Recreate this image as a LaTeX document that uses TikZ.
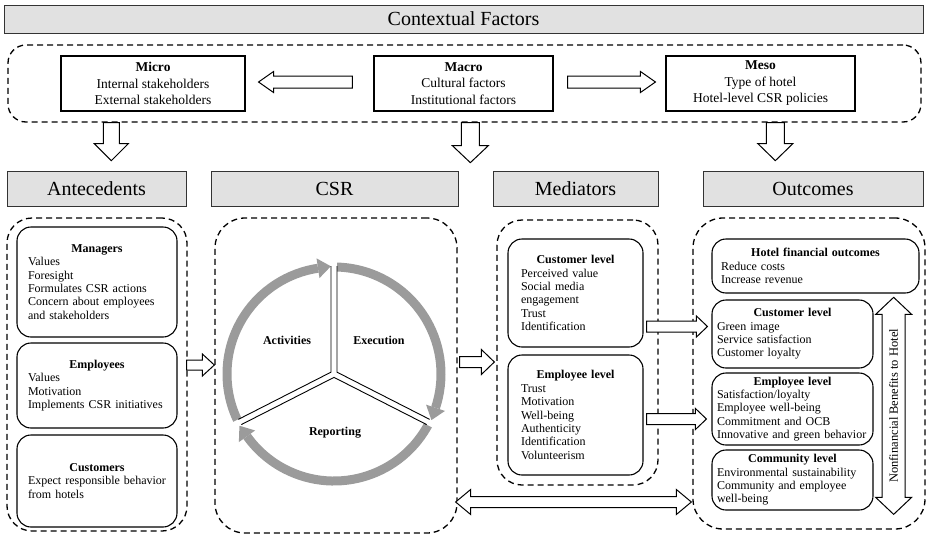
\documentclass[tikz,border=0pt]{standalone}
\usepackage{fontspec}
\setmainfont{Liberation Serif}
\usetikzlibrary{calc}
\definecolor{hdrgray}{RGB}{225,225,225}
\definecolor{ringgray}{RGB}{155,155,155}
\newcommand\boxtitle[1]{\makebox[\linewidth][c]{\bfseries #1}}
% single block arrow: start, end, body half width, head half width, head length
\newcommand\blockarrow[5]{%
  \path #1 coordinate (ba-s) #2 coordinate (ba-e);
  \path ($(ba-e)!#5!(ba-s)$) coordinate (ba-h);
  \draw[barrow] ($(ba-s)!#3!90:(ba-e)$) -- ($(ba-h)!#3!90:(ba-e)$) -- ($(ba-h)!#4!90:(ba-e)$) -- (ba-e)
     -- ($(ba-h)!#4!-90:(ba-e)$) -- ($(ba-h)!#3!-90:(ba-e)$) -- ($(ba-s)!#3!-90:(ba-e)$) -- cycle;}
% double block arrow
\newcommand\dblockarrow[5]{%
  \path #1 coordinate (ba-s) #2 coordinate (ba-e);
  \path ($(ba-e)!#5!(ba-s)$) coordinate (ba-h) ($(ba-s)!#5!(ba-e)$) coordinate (ba-g);
  \draw[barrow] (ba-s) -- ($(ba-g)!#4!90:(ba-e)$) -- ($(ba-g)!#3!90:(ba-e)$) -- ($(ba-h)!#3!90:(ba-e)$)
     -- ($(ba-h)!#4!90:(ba-e)$) -- (ba-e) -- ($(ba-h)!#4!-90:(ba-e)$) -- ($(ba-h)!#3!-90:(ba-e)$)
     -- ($(ba-g)!#3!-90:(ba-e)$) -- ($(ba-g)!#4!-90:(ba-e)$) -- cycle;}
\tikzset{
  hdr/.style={draw=black!80, fill=hdrgray, line width=0.9pt, inner sep=0pt,
    font=\fontsize{20}{24}\selectfont},
  dashbox/.style={draw, dash pattern=on 6pt off 4pt, line width=1.3pt, rounded corners=#1, inner sep=0pt},
  topbox/.style={draw, line width=1.1pt, align=center, inner sep=0pt,
    font=\fontsize{13.5}{16.5}\selectfont},
  ibox/.style={draw, line width=1.1pt, rounded corners=14pt, align=left, inner ysep=0pt,
    font=\fontsize{12}{13.4}\selectfont},
  barrow/.style={draw, fill=white, line width=1pt, line join=miter},
  ringarc/.style={draw=ringgray, line width=9pt},
  ringhead/.style={fill=ringgray},
  seglabel/.style={font=\fontsize{12}{14}\selectfont\bfseries},
  divline/.style={draw, line width=0.9pt},
}
\begin{document}
\begin{tikzpicture}[x=1pt,y=-1pt]
\useasboundingbox (0,0) rectangle (927,536);

% ---------- contextual factors ----------
\node[hdr, minimum width=919pt, minimum height=28pt] (ctx) at (463.5,19) {Contextual Factors};
\node[dashbox=18pt, minimum width=913pt, minimum height=77pt] (ctxbox) at (464.5,83.5) {};
\node[topbox, minimum width=184pt, minimum height=55pt] (micro) at (153,83.5)
  {\textbf{Micro}\\Internal stakeholders\\External stakeholders};
\node[topbox, minimum width=179pt, minimum height=55pt] (macro) at (463.5,83.5)
  {\textbf{Macro}\\Cultural factors\\Institutional factors};
\node[topbox, minimum width=189pt, minimum height=55pt] (meso) at (760.5,83.5)
  {\textbf{Meso}\\Type of hotel\\Hotel-level CSR policies};
\blockarrow{($(macro.west)+(-21,-1.5)$)}{($(micro.east)+(13,-1.5)$)}{6pt}{10.5pt}{15pt}
\blockarrow{($(macro.east)+(14,-1.5)$)}{($(meso.west)+(-10,-1.5)$)}{6pt}{10.5pt}{15pt}

% ---------- headers ----------
\node[hdr, minimum width=179pt, minimum height=35pt] (anth) at (96.5,188.5) {Antecedents};
\node[hdr, minimum width=247pt, minimum height=35pt] (csrh) at (334.5,188.5) {CSR};
\node[hdr, minimum width=165pt, minimum height=35pt] (medh) at (575.5,188.5) {Mediators};
\node[hdr, minimum width=220pt, minimum height=35pt] (outh) at (813,188.5) {Outcomes};

% down arrows
\blockarrow{($(ctxbox.south west)+(104,0)$)}{($(ctxbox.south west)+(104,38)$)}{8pt}{17pt}{17pt}
\blockarrow{($(ctxbox.south west)+(463,0)$)}{($(ctxbox.south west)+(463,40)$)}{9pt}{18pt}{17pt}
\blockarrow{($(ctxbox.south west)+(768,0)$)}{($(ctxbox.south west)+(768,38)$)}{9pt}{17.5pt}{17pt}

% ---------- dashed containers ----------
\node[dashbox=25pt, minimum width=180pt, minimum height=313pt] (antbox) at (97,374.5) {};
\node[dashbox=30pt, minimum width=242pt, minimum height=315pt] (csrbox) at (336,375.5) {};
\node[dashbox=25pt, minimum width=161pt, minimum height=265pt] (medbox) at (577.5,352.5) {};
\node[dashbox=30pt, minimum width=232pt, minimum height=311pt] (outbox) at (809,373.5) {};

% ---------- antecedents ----------
\node[ibox, minimum width=160pt, minimum height=110pt, text width=138pt, inner xsep=11pt] (mgr) at (97,282)
  {\boxtitle{Managers}\\Values\\Foresight\\Formulates CSR actions\\Concern about employees\\and stakeholders};
\node[ibox, minimum width=160pt, minimum height=85pt, text width=138pt, inner xsep=11pt] (emp) at (97,385.5)
  {\boxtitle{Employees}\\Values\\Motivation\\Implements CSR initiatives};
\node[ibox, minimum width=160pt, minimum height=92pt, text width=138pt, inner xsep=11pt] (cus) at (97,481)
  {\boxtitle{Customers}\\\mbox{Expect responsible behavior}\\from hotels};

% ---------- CSR cycle ----------
\begin{scope}[shift={(334,374)}, y=1pt]
  \draw[ringarc] (90:107) arc[start angle=90, end angle=-18.4, radius=107];
  \fill[ringhead] (-18.4:97) -- (-18.4:117) -- ($(-18.4:107)+(-108.4:13)$) -- cycle;
  \draw[ringarc] (-27:107) arc[start angle=-27, end angle=-144.4, radius=107];
  \fill[ringhead] (-144.4:97) -- (-144.4:117) -- ($(-144.4:107)+(-234.4:13)$) -- cycle;
  \draw[ringarc] (207:107) arc[start angle=207, end angle=98.6, radius=107];
  \fill[ringhead] (98.6:97) -- (98.6:117) -- ($(98.6:107)+(8.6:13)$) -- cycle;
  % divider strips
  \foreach \a in {90,-27,207} \draw[white, line width=6pt] (0,0) -- (\a:113);
  \draw[divline] ($(31.5:3.52)+(90:106)$) -- (31.5:3.52) -- ($(31.5:3.52)+(-27:104)$);
  \draw[divline] ($(-90:3.37)+(-27:104)$) -- (-90:3.37) -- ($(-90:3.37)+(207:104)$);
  \draw[divline] ($(148.5:3.52)+(207:104)$) -- (148.5:3.52) -- ($(148.5:3.52)+(90:106)$);
  \node[seglabel] (act) at (-47,34) {Activities};
  \node[seglabel] (exe) at (45,34) {Execution};
  \node[seglabel] (rep) at (1,-59) {Reporting};
\end{scope}

% ---------- mediators ----------
\node[ibox, minimum width=135pt, minimum height=108pt, text width=109pt, inner xsep=13pt] (medcus) at (575.5,293)
  {\boxtitle{Customer level}\\Perceived value\\Social media\\engagement\\Trust\\Identification};
\node[ibox, minimum width=135pt, minimum height=120pt, text width=109pt, inner xsep=13pt] (medemp) at (575.5,415)
  {\boxtitle{Employee level}\\Trust\\Motivation\\Well-being\\Authenticity\\Identification\\Volunteerism};

% ---------- outcomes ----------
\node[ibox, minimum width=207pt, minimum height=54pt, text width=189pt, inner xsep=9pt] (fin) at (815.5,266)
  {\boxtitle{Hotel financial outcomes}\\Reduce costs\\Increase revenue};
\node[ibox, minimum width=161pt, minimum height=68pt, text width=151pt, inner xsep=5pt] (ocus) at (792.5,334)
  {\boxtitle{Customer level}\\Green image\\Service satisfaction\\Customer loyalty};
\node[ibox, minimum width=161pt, minimum height=72pt, text width=151pt, inner xsep=5pt] (oemp) at (792.5,409)
  {\boxtitle{Employee level}\\Satisfaction/loyalty\\Employee well-being\\Commitment and OCB\\\mbox{Innovative and green behavior}};
\node[ibox, minimum width=161pt, minimum height=60pt, text width=151pt, inner xsep=5pt] (ocom) at (792.5,480)
  {\boxtitle{Community level}\\\mbox{Environmental sustainability}\\Community and employee\\well-being};

\coordinate (bentop) at ($(outbox.north east)+(-32,80)$);
\coordinate (benbot) at ($(outbox.north east)+(-32,297)$);
\dblockarrow{(bentop)}{(benbot)}{11.5pt}{18pt}{17pt}
\node[rotate=90, font=\fontsize{12.5}{14}\selectfont] (nfb) at ($(bentop)!0.5!(benbot)$) {Nonfinancial Benefits to Hotel};

% ---------- connectors ----------
\blockarrow{($(antbox.east)+(-1,-9.5)$)}{($(csrbox.west)+(0,-10.5)$)}{5pt}{11pt}{12pt}
\blockarrow{($(csrbox.east)+(2,-13.5)$)}{($(medbox.west)+(-2,9.5)$)}{5.5pt}{12.5pt}{13pt}
\blockarrow{($(medcus.east)+(3,33.5)$)}{($(ocus.west)+(-4,-7.5)$)}{5.5pt}{10.5pt}{11pt}
\blockarrow{($(medemp.east)+(3,4)$)}{($(oemp.west)+(-5,10)$)}{5.5pt}{10.5pt}{11pt}
\dblockarrow{($(csrbox.east)+(-2,126.5)$)}{($(outbox.west)+(-1,128.5)$)}{5.5pt}{12.5pt}{15pt}
\end{tikzpicture}
\end{document}
